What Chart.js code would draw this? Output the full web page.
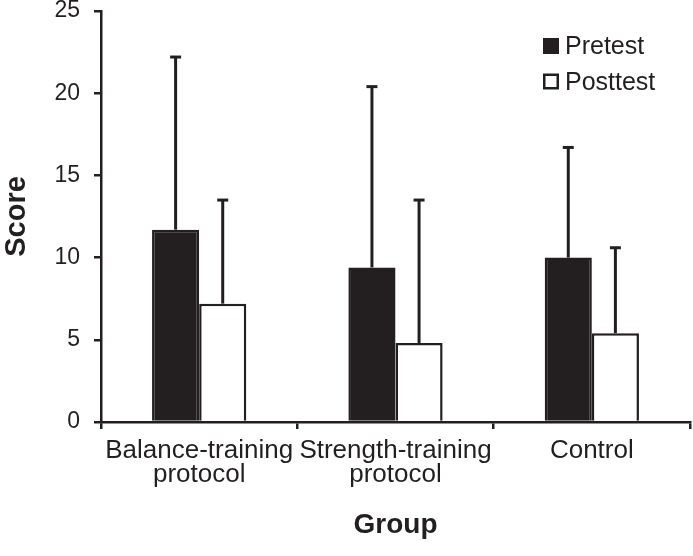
<!DOCTYPE html>
<html><head><meta charset="utf-8">
<script src="https://cdn.jsdelivr.net/npm/chart.js@4.4.0/dist/chart.umd.min.js"></script>
<style>html,body{margin:0;padding:0;background:#fff;} canvas{display:block;}</style>
</head><body>
<canvas id="c" width="693" height="556"></canvas>
<script>
// ---- data ----
const categories = [['Balance-training', 'protocol'], ['Strength-training', 'protocol'], ['Control']];
const seriesNames = ['Pretest', 'Posttest'];
const pretestMeans = [11.7, 9.4, 10.0];
const pretestSD = [10.5, 11.0, 6.7];
const posttestMeans = [7.2, 4.8, 5.4];
const posttestSD = [6.3, 8.7, 5.2];
const yTickValues = [0, 5, 10, 15, 20, 25];
const xTitle = 'Group';
const yTitle = 'Score';

const INK = '#231f20';
const FONT = '"Liberation Sans", Arial, Helvetica, sans-serif';

const errorBarPlugin = {
  id: 'errorBars',
  afterDatasetsDraw(chart) {
    const ctx = chart.ctx;
    const yScale = chart.scales.y;
    chart.data.datasets.forEach((ds, i) => {
      const meta = chart.getDatasetMeta(i);
      meta.data.forEach((bar, j) => {
        const top = yScale.getPixelForValue(ds.data[j] + ds.errors[j]);
        ctx.save();
        ctx.strokeStyle = INK;
        ctx.lineWidth = 3;
        ctx.beginPath();
        ctx.moveTo(bar.x, bar.y);
        ctx.lineTo(bar.x, top);
        ctx.stroke();
        ctx.beginPath();
        ctx.moveTo(bar.x - 5.5, top);
        ctx.lineTo(bar.x + 5.5, top);
        ctx.stroke();
        ctx.restore();
      });
    });
  }
};

const legendPlugin = {
  id: 'boxLegend',
  afterDraw(chart) {
    const ctx = chart.ctx;
    const a = chart.chartArea;
    const x0 = a.right - 147;
    const y0 = a.top + 27;
    chart.data.datasets.forEach((ds, i) => {
      const y = y0 + i * 35.5;
      ctx.save();
      if (ds.backgroundColor === INK) {
        ctx.fillStyle = INK;
        ctx.fillRect(x0, y, 16, 16);
      } else {
        ctx.fillStyle = '#ffffff';
        ctx.fillRect(x0, y, 16, 16);
        ctx.strokeStyle = INK;
        ctx.lineWidth = 2.5;
        ctx.strokeRect(x0 + 1.25, y + 1.25, 13.5, 13.5);
      }
      ctx.fillStyle = INK;
      ctx.font = '25px ' + FONT;
      ctx.textAlign = 'left';
      ctx.textBaseline = 'alphabetic';
      ctx.fillText(ds.label, x0 + 22, y + 16);
      ctx.restore();
    });
  }
};

new Chart(document.getElementById('c'), {
  type: 'bar',
  data: {
    labels: categories,
    datasets: [
      { label: seriesNames[0], data: pretestMeans, errors: pretestSD,
        backgroundColor: INK, borderColor: INK, borderWidth: 2.5,
        categoryPercentage: 0.48, barPercentage: 1.0 },
      { label: seriesNames[1], data: posttestMeans, errors: posttestSD,
        backgroundColor: '#ffffff', borderColor: INK, borderWidth: 2.5,
        categoryPercentage: 0.48, barPercentage: 1.0 }
    ]
  },
  options: {
    responsive: false,
    animation: false,
    layout: { padding: { top: 11, right: 3, bottom: 0, left: 0 } },
    plugins: { legend: { display: false }, tooltip: { enabled: false } },
    scales: {
      x: {
        grid: { offset: true, drawOnChartArea: false, drawTicks: true, tickLength: 7, color: INK, lineWidth: 2.5 },
        border: { display: true, color: INK, width: 2.5 },
        ticks: { color: INK, font: { family: FONT, size: 26, lineHeight: 0.95 }, padding: 9, maxRotation: 0, minRotation: 0, autoSkip: false },
        title: { display: true, text: xTitle, color: INK, font: { family: FONT, size: 28, weight: 'bold', lineHeight: 1.2 }, padding: { top: 0, bottom: 14 } },
        afterFit: (s) => { s.height = 134; s.paddingLeft = 0; s.paddingRight = 0; }
      },
      y: {
        min: 0, max: 25,
        afterBuildTicks: (s) => { s.ticks = yTickValues.map(v => ({ value: v })); },
        grid: { drawOnChartArea: false, drawTicks: true, tickLength: 7, color: INK, lineWidth: 2.5 },
        border: { display: true, color: INK, width: 2.5 },
        ticks: { color: INK, font: { family: FONT, size: 23, lineHeight: 1.0 }, padding: 14 },
        title: { display: true, text: yTitle, color: INK, font: { family: FONT, size: 29, weight: 'bold', lineHeight: 1.2 }, padding: { top: 0, bottom: 0 } },
        afterFit: (s) => { s.width = 101; s.paddingTop = 0; s.paddingBottom = 0; }
      }
    }
  },
  plugins: [errorBarPlugin, legendPlugin]
});
</script>
</body></html>
